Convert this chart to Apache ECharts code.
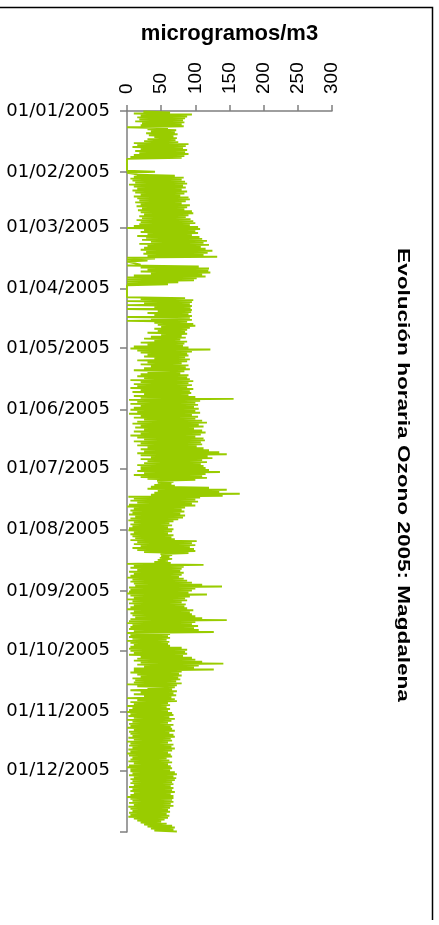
<!DOCTYPE html>
<html>
<head>
<meta charset="utf-8">
<script src="https://cdn.jsdelivr.net/npm/echarts@6/dist/echarts.min.js"></script>
<style>
html,body{margin:0;padding:0;background:#fff;}
#chart{width:439px;height:925px;}
</style>
</head>
<body>
<div id="chart"></div>
<script>
// Month tick labels (date axis)
const monthLabels = ['01/01/2005','01/02/2005','01/03/2005','01/04/2005','01/05/2005','01/06/2005',
  '01/07/2005','01/08/2005','01/09/2005','01/10/2005','01/11/2005','01/12/2005'];
const yearEndLabel = '01/01/2006';

// Daily maximum of hourly ozone (µg/m3)
const dailyMax = [
  63,95,88,85,82,84,80,83,60,72,70,74,68,73,71,75,90,86,82,88,85,90,84,80,0,0,0,0,0,0,41,
  10,70,83,80,85,88,82,86,80,88,84,78,90,92,86,80,92,88,84,95,97,90,86,93,97,100,92,104,
  107,100,104,95,106,110,117,112,120,108,115,125,118,112,132,41,30,0,20,105,120,119,122,110,115,102,98,75,60,0,0,
  0,0,0,0,85,97,95,92,95,93,95,94,90,95,92,95,88,97,100,92,88,85,88,80,86,78,88,84,82,90,
  122,95,88,90,85,92,88,80,90,86,92,84,78,90,88,92,97,90,95,88,97,92,94,90,100,156,107,100,104,98,105,
  100,107,95,104,100,110,117,105,112,98,110,115,108,100,112,114,108,110,102,112,120,135,146,118,125,110,117,108,112,115,
  120,136,115,110,117,100,68,65,70,120,146,135,165,140,107,100,104,95,100,85,80,84,78,85,82,75,68,62,66,60,68,
  66,60,68,65,70,102,95,100,92,98,100,90,66,62,66,60,64,112,83,80,78,83,80,76,83,88,95,110,139,100,95,
  90,117,92,85,88,80,86,84,88,97,92,95,100,110,146,100,95,104,98,105,127,63,60,63,58,62,60,63,80,88,
  85,88,82,95,100,110,141,105,98,127,80,76,80,75,78,72,80,73,70,66,73,68,72,65,70,73,60,63,58,63,60,
  66,68,62,70,65,60,68,64,66,70,62,68,70,64,66,60,68,65,70,66,60,64,66,58,62,66,60,64,66,63,
  70,73,68,72,70,66,68,64,68,66,70,64,68,68,66,68,64,68,63,60,63,58,62,60,55,50,58,66,70,68,73
];

// Daily minimum of hourly ozone (µg/m3)
const dailyMin = [
  24,10,20,15,18,12,22,20,0,30,35,28,32,40,30,25,10,15,8,20,12,18,10,5,0,0,0,0,0,0,0,
  0,15,10,5,8,12,3,10,15,8,12,20,10,15,18,12,20,14,22,16,20,25,18,22,14,20,18,10,
  0,25,20,30,15,28,22,35,18,30,25,20,28,24,30,0,0,0,0,0,20,30,20,35,10,0,0,0,0,0,0,
  0,0,0,0,0,20,0,25,0,40,0,45,30,40,0,35,0,40,45,50,40,45,30,50,35,25,40,20,30,10,
  5,15,20,30,25,40,15,30,20,35,25,10,30,20,15,25,5,20,10,15,5,20,8,25,10,20,3,15,5,20,10,
  5,15,3,20,10,25,15,8,20,12,25,10,20,5,15,25,10,20,15,30,20,25,15,20,35,20,30,25,15,20,
  20,15,25,10,20,30,44,45,40,35,30,45,40,35,2,10,5,15,3,0,10,5,8,3,12,5,2,10,5,8,3,
  2,10,5,8,12,5,15,10,20,8,15,25,49,50,48,45,40,0,10,5,15,3,10,5,0,8,5,10,12,3,5,
  3,0,5,10,0,8,3,10,5,0,10,5,8,12,5,3,0,8,5,3,10,0,5,3,8,0,5,10,5,3,
  5,10,3,20,15,10,20,15,25,10,10,5,15,20,8,12,10,0,15,30,5,20,10,25,0,15,5,10,0,8,3,
  0,5,2,10,0,8,3,5,0,10,3,5,8,2,10,0,5,3,8,2,5,0,3,8,5,2,10,3,0,5,
  5,8,3,10,5,8,5,10,3,8,5,10,5,0,5,8,3,10,2,5,8,3,5,2,10,15,20,25,30,35,40
];

// Value axis range
const valueMin = 0, valueMax = 300, valueStep = 50;

function dayOfYear(label) {
  const p = label.split('/').map(Number);
  return (Date.UTC(p[2], p[1] - 1, p[0]) - Date.UTC(2005, 0, 1)) / 86400000;
}
const labelDays = monthLabels.map(dayOfYear);
const endDay = dayOfYear(yearEndLabel);
const tickDays = labelDays.concat([endDay]);
const labelByDay = {};
monthLabels.forEach(function (l, i) { labelByDay[labelDays[i]] = l; });

const seriesData = [];
for (let i = 0; i < dailyMax.length; i++) {
  seriesData.push([dailyMin[i], i + 0.25]);
  seriesData.push([dailyMax[i], i + 0.75]);
}

const chart = echarts.init(document.getElementById('chart'), null, {renderer: 'canvas'});
const axisGray = '#7f7f7f';
chart.setOption({
  animation: false,
  backgroundColor: '#ffffff',
  grid: {left: 127, right: 107, top: 111, bottom: 93, containLabel: false},
  xAxis: {
    type: 'value', position: 'top', min: valueMin, max: valueMax, interval: valueStep,
    axisLine: {show: true, onZero: false, lineStyle: {color: axisGray, width: 1.5}},
    axisTick: {show: true, length: 6, lineStyle: {color: axisGray, width: 1.5}},
    splitLine: {show: false},
    axisLabel: {rotate: -90, margin: 17, fontSize: 19, color: '#000', fontFamily: 'Liberation Sans'},
    name: 'microgramos/m3', nameLocation: 'middle', nameGap: 66,
    nameTextStyle: {fontSize: 22, fontWeight: 'bold', color: '#000', fontFamily: 'Liberation Sans'}
  },
  yAxis: {
    type: 'value', inverse: true, min: 0, max: endDay,
    axisLine: {show: true, onZero: false, lineStyle: {color: axisGray, width: 1.5}},
    axisTick: {show: true, length: 7, customValues: tickDays, lineStyle: {color: axisGray, width: 1.5}},
    splitLine: {show: false},
    axisLabel: {
      customValues: labelDays, margin: 17, fontSize: 18, color: '#000', fontFamily: 'DejaVu Sans',
      padding: [0, 0, 4, 0],
      formatter: function (v) { return labelByDay[v] || ''; }
    }
  },
  series: [{
    type: 'line', data: seriesData, showSymbol: false, symbol: 'none',
    lineStyle: {color: '#99cc00', width: 1.9}, sampling: null, silent: true
  }],
  graphic: [
    {type: 'polyline', shape: {points: [[0, 7.5], [432.5, 7.5], [432.5, 920]]},
     style: {stroke: '#000', lineWidth: 1.5, fill: null}, silent: true},
    {type: 'text', x: 402, y: 475, rotation: -Math.PI / 2, scaleX: 1.41,
     style: {text: 'Evolución horaria Ozono 2005: Magdalena', font: 'bold 16px "Liberation Sans"',
             fill: '#000', textAlign: 'center', textVerticalAlign: 'middle'}}
  ]
});
</script>
</body>
</html>
